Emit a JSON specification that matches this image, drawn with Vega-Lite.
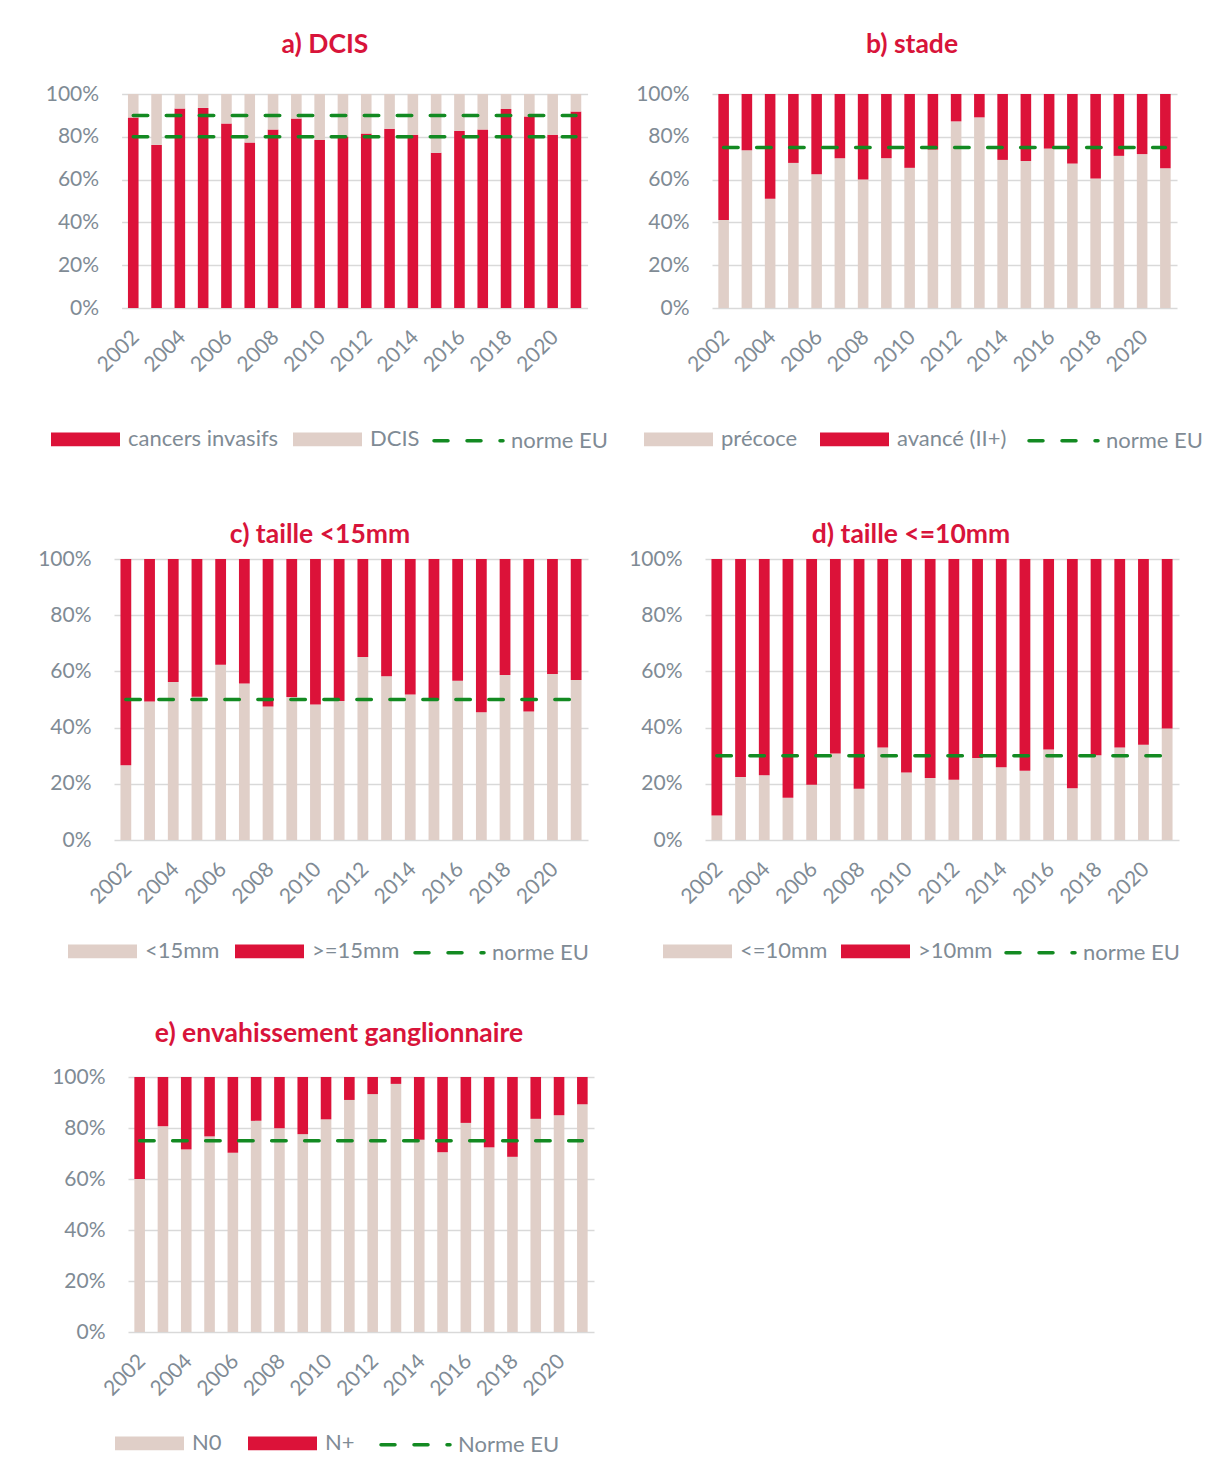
{
"$schema": "https://vega.github.io/schema/vega-lite/v6.json",
"padding": {"left": 37, "top": 32, "right": 10, "bottom": 10},
"background": "white",
"config": {
  "view": {"stroke": null},
  "font": "Lato",
  "title": {"font": "Lato", "fontSize": 26.5, "fontWeight": "bold", "color": "#D8143A", "anchor": "middle", "frame": "group", "baseline": "bottom"},
  "axis": {"labelFont": "Lato", "labelFontSize": 21, "labelColor": "#7F8B95", "ticks": false, "domain": false},
  "axisX": {"grid": false, "labelAngle": -45, "labelAlign": "right", "labelBaseline": "top", "labelPadding": 18, "labelOffset": -5, "labelOverlap": false},
  "axisY": {"grid": true, "gridColor": "#D9D9D9", "gridWidth": 1.5, "labelPadding": 23},
  "legend": {"orient": "none", "direction": "horizontal", "symbolType": "M-1,-0.2H1V0.2H-1Z", "symbolSize": 4761, "symbolStrokeWidth": 3.5, "labelFont": "Lato", "labelFontSize": 22, "labelColor": "#7F8B95", "labelOffset": 6, "columnPadding": 14, "padding": 0, "labelLimit": 400},
  "line": {"color": "#138A22", "strokeWidth": 3.5, "strokeDash": [14.5, 18.5], "strokeCap": "round"}
},
"datasets": {
  "pa": [
    {"year":"2002","cat":"cancers invasifs","v":89.0,"k":1},{"year":"2002","cat":"DCIS","v":11.0,"k":2},
    {"year":"2003","cat":"cancers invasifs","v":76.2,"k":1},{"year":"2003","cat":"DCIS","v":23.8,"k":2},
    {"year":"2004","cat":"cancers invasifs","v":93.2,"k":1},{"year":"2004","cat":"DCIS","v":6.8,"k":2},
    {"year":"2005","cat":"cancers invasifs","v":93.5,"k":1},{"year":"2005","cat":"DCIS","v":6.5,"k":2},
    {"year":"2006","cat":"cancers invasifs","v":86.2,"k":1},{"year":"2006","cat":"DCIS","v":13.8,"k":2},
    {"year":"2007","cat":"cancers invasifs","v":77.3,"k":1},{"year":"2007","cat":"DCIS","v":22.7,"k":2},
    {"year":"2008","cat":"cancers invasifs","v":83.4,"k":1},{"year":"2008","cat":"DCIS","v":16.6,"k":2},
    {"year":"2009","cat":"cancers invasifs","v":88.5,"k":1},{"year":"2009","cat":"DCIS","v":11.5,"k":2},
    {"year":"2010","cat":"cancers invasifs","v":78.5,"k":1},{"year":"2010","cat":"DCIS","v":21.5,"k":2},
    {"year":"2011","cat":"cancers invasifs","v":80.0,"k":1},{"year":"2011","cat":"DCIS","v":20.0,"k":2},
    {"year":"2012","cat":"cancers invasifs","v":81.5,"k":1},{"year":"2012","cat":"DCIS","v":18.5,"k":2},
    {"year":"2013","cat":"cancers invasifs","v":83.8,"k":1},{"year":"2013","cat":"DCIS","v":16.2,"k":2},
    {"year":"2014","cat":"cancers invasifs","v":81.0,"k":1},{"year":"2014","cat":"DCIS","v":19.0,"k":2},
    {"year":"2015","cat":"cancers invasifs","v":72.5,"k":1},{"year":"2015","cat":"DCIS","v":27.5,"k":2},
    {"year":"2016","cat":"cancers invasifs","v":82.7,"k":1},{"year":"2016","cat":"DCIS","v":17.3,"k":2},
    {"year":"2017","cat":"cancers invasifs","v":83.4,"k":1},{"year":"2017","cat":"DCIS","v":16.6,"k":2},
    {"year":"2018","cat":"cancers invasifs","v":93.0,"k":1},{"year":"2018","cat":"DCIS","v":7.0,"k":2},
    {"year":"2019","cat":"cancers invasifs","v":89.5,"k":1},{"year":"2019","cat":"DCIS","v":10.5,"k":2},
    {"year":"2020","cat":"cancers invasifs","v":80.9,"k":1},{"year":"2020","cat":"DCIS","v":19.1,"k":2},
    {"year":"2021","cat":"cancers invasifs","v":91.8,"k":1},{"year":"2021","cat":"DCIS","v":8.2,"k":2}
  ],
  "pb": [
    {"year":"2002","cat":"précoce","v":41.1,"k":1},{"year":"2002","cat":"avancé (II+)","v":58.9,"k":2},
    {"year":"2003","cat":"précoce","v":73.7,"k":1},{"year":"2003","cat":"avancé (II+)","v":26.3,"k":2},
    {"year":"2004","cat":"précoce","v":51.0,"k":1},{"year":"2004","cat":"avancé (II+)","v":49.0,"k":2},
    {"year":"2005","cat":"précoce","v":67.8,"k":1},{"year":"2005","cat":"avancé (II+)","v":32.2,"k":2},
    {"year":"2006","cat":"précoce","v":62.5,"k":1},{"year":"2006","cat":"avancé (II+)","v":37.5,"k":2},
    {"year":"2007","cat":"précoce","v":70.0,"k":1},{"year":"2007","cat":"avancé (II+)","v":30.0,"k":2},
    {"year":"2008","cat":"précoce","v":60.0,"k":1},{"year":"2008","cat":"avancé (II+)","v":40.0,"k":2},
    {"year":"2009","cat":"précoce","v":70.0,"k":1},{"year":"2009","cat":"avancé (II+)","v":30.0,"k":2},
    {"year":"2010","cat":"précoce","v":65.5,"k":1},{"year":"2010","cat":"avancé (II+)","v":34.5,"k":2},
    {"year":"2011","cat":"précoce","v":74.0,"k":1},{"year":"2011","cat":"avancé (II+)","v":26.0,"k":2},
    {"year":"2012","cat":"précoce","v":87.2,"k":1},{"year":"2012","cat":"avancé (II+)","v":12.8,"k":2},
    {"year":"2013","cat":"précoce","v":89.1,"k":1},{"year":"2013","cat":"avancé (II+)","v":10.9,"k":2},
    {"year":"2014","cat":"précoce","v":69.2,"k":1},{"year":"2014","cat":"avancé (II+)","v":30.8,"k":2},
    {"year":"2015","cat":"précoce","v":68.7,"k":1},{"year":"2015","cat":"avancé (II+)","v":31.3,"k":2},
    {"year":"2016","cat":"précoce","v":74.5,"k":1},{"year":"2016","cat":"avancé (II+)","v":25.5,"k":2},
    {"year":"2017","cat":"précoce","v":67.5,"k":1},{"year":"2017","cat":"avancé (II+)","v":32.5,"k":2},
    {"year":"2018","cat":"précoce","v":60.5,"k":1},{"year":"2018","cat":"avancé (II+)","v":39.5,"k":2},
    {"year":"2019","cat":"précoce","v":71.1,"k":1},{"year":"2019","cat":"avancé (II+)","v":28.9,"k":2},
    {"year":"2020","cat":"précoce","v":71.9,"k":1},{"year":"2020","cat":"avancé (II+)","v":28.1,"k":2},
    {"year":"2021","cat":"précoce","v":65.3,"k":1},{"year":"2021","cat":"avancé (II+)","v":34.7,"k":2}
  ],
  "pc": [
    {"year":"2002","cat":"<15mm","v":26.6,"k":1},{"year":"2002","cat":">=15mm","v":73.4,"k":2},
    {"year":"2003","cat":"<15mm","v":49.3,"k":1},{"year":"2003","cat":">=15mm","v":50.7,"k":2},
    {"year":"2004","cat":"<15mm","v":56.2,"k":1},{"year":"2004","cat":">=15mm","v":43.8,"k":2},
    {"year":"2005","cat":"<15mm","v":51.0,"k":1},{"year":"2005","cat":">=15mm","v":49.0,"k":2},
    {"year":"2006","cat":"<15mm","v":62.4,"k":1},{"year":"2006","cat":">=15mm","v":37.6,"k":2},
    {"year":"2007","cat":"<15mm","v":55.7,"k":1},{"year":"2007","cat":">=15mm","v":44.3,"k":2},
    {"year":"2008","cat":"<15mm","v":47.5,"k":1},{"year":"2008","cat":">=15mm","v":52.5,"k":2},
    {"year":"2009","cat":"<15mm","v":50.9,"k":1},{"year":"2009","cat":">=15mm","v":49.1,"k":2},
    {"year":"2010","cat":"<15mm","v":48.2,"k":1},{"year":"2010","cat":">=15mm","v":51.8,"k":2},
    {"year":"2011","cat":"<15mm","v":49.5,"k":1},{"year":"2011","cat":">=15mm","v":50.5,"k":2},
    {"year":"2012","cat":"<15mm","v":65.1,"k":1},{"year":"2012","cat":">=15mm","v":34.9,"k":2},
    {"year":"2013","cat":"<15mm","v":58.3,"k":1},{"year":"2013","cat":">=15mm","v":41.7,"k":2},
    {"year":"2014","cat":"<15mm","v":51.8,"k":1},{"year":"2014","cat":">=15mm","v":48.2,"k":2},
    {"year":"2015","cat":"<15mm","v":49.8,"k":1},{"year":"2015","cat":">=15mm","v":50.2,"k":2},
    {"year":"2016","cat":"<15mm","v":56.7,"k":1},{"year":"2016","cat":">=15mm","v":43.3,"k":2},
    {"year":"2017","cat":"<15mm","v":45.5,"k":1},{"year":"2017","cat":">=15mm","v":54.5,"k":2},
    {"year":"2018","cat":"<15mm","v":58.7,"k":1},{"year":"2018","cat":">=15mm","v":41.3,"k":2},
    {"year":"2019","cat":"<15mm","v":45.7,"k":1},{"year":"2019","cat":">=15mm","v":54.3,"k":2},
    {"year":"2020","cat":"<15mm","v":59.1,"k":1},{"year":"2020","cat":">=15mm","v":40.9,"k":2},
    {"year":"2021","cat":"<15mm","v":56.9,"k":1},{"year":"2021","cat":">=15mm","v":43.1,"k":2}
  ],
  "pd": [
    {"year":"2002","cat":"<=10mm","v":8.7,"k":1},{"year":"2002","cat":">10mm","v":91.3,"k":2},
    {"year":"2003","cat":"<=10mm","v":22.4,"k":1},{"year":"2003","cat":">10mm","v":77.6,"k":2},
    {"year":"2004","cat":"<=10mm","v":23.0,"k":1},{"year":"2004","cat":">10mm","v":77.0,"k":2},
    {"year":"2005","cat":"<=10mm","v":15.0,"k":1},{"year":"2005","cat":">10mm","v":85.0,"k":2},
    {"year":"2006","cat":"<=10mm","v":19.7,"k":1},{"year":"2006","cat":">10mm","v":80.3,"k":2},
    {"year":"2007","cat":"<=10mm","v":30.8,"k":1},{"year":"2007","cat":">10mm","v":69.2,"k":2},
    {"year":"2008","cat":"<=10mm","v":18.2,"k":1},{"year":"2008","cat":">10mm","v":81.8,"k":2},
    {"year":"2009","cat":"<=10mm","v":32.9,"k":1},{"year":"2009","cat":">10mm","v":67.1,"k":2},
    {"year":"2010","cat":"<=10mm","v":24.0,"k":1},{"year":"2010","cat":">10mm","v":76.0,"k":2},
    {"year":"2011","cat":"<=10mm","v":22.1,"k":1},{"year":"2011","cat":">10mm","v":77.9,"k":2},
    {"year":"2012","cat":"<=10mm","v":21.4,"k":1},{"year":"2012","cat":">10mm","v":78.6,"k":2},
    {"year":"2013","cat":"<=10mm","v":29.2,"k":1},{"year":"2013","cat":">10mm","v":70.8,"k":2},
    {"year":"2014","cat":"<=10mm","v":25.9,"k":1},{"year":"2014","cat":">10mm","v":74.1,"k":2},
    {"year":"2015","cat":"<=10mm","v":24.6,"k":1},{"year":"2015","cat":">10mm","v":75.4,"k":2},
    {"year":"2016","cat":"<=10mm","v":32.2,"k":1},{"year":"2016","cat":">10mm","v":67.8,"k":2},
    {"year":"2017","cat":"<=10mm","v":18.4,"k":1},{"year":"2017","cat":">10mm","v":81.6,"k":2},
    {"year":"2018","cat":"<=10mm","v":30.2,"k":1},{"year":"2018","cat":">10mm","v":69.8,"k":2},
    {"year":"2019","cat":"<=10mm","v":32.9,"k":1},{"year":"2019","cat":">10mm","v":67.1,"k":2},
    {"year":"2020","cat":"<=10mm","v":33.9,"k":1},{"year":"2020","cat":">10mm","v":66.1,"k":2},
    {"year":"2021","cat":"<=10mm","v":39.7,"k":1},{"year":"2021","cat":">10mm","v":60.3,"k":2}
  ],
  "pe": [
    {"year":"2002","cat":"N0","v":60.0,"k":1},{"year":"2002","cat":"N+","v":40.0,"k":2},
    {"year":"2003","cat":"N0","v":80.7,"k":1},{"year":"2003","cat":"N+","v":19.3,"k":2},
    {"year":"2004","cat":"N0","v":71.6,"k":1},{"year":"2004","cat":"N+","v":28.4,"k":2},
    {"year":"2005","cat":"N0","v":76.7,"k":1},{"year":"2005","cat":"N+","v":23.3,"k":2},
    {"year":"2006","cat":"N0","v":70.3,"k":1},{"year":"2006","cat":"N+","v":29.7,"k":2},
    {"year":"2007","cat":"N0","v":82.8,"k":1},{"year":"2007","cat":"N+","v":17.2,"k":2},
    {"year":"2008","cat":"N0","v":79.9,"k":1},{"year":"2008","cat":"N+","v":20.1,"k":2},
    {"year":"2009","cat":"N0","v":77.6,"k":1},{"year":"2009","cat":"N+","v":22.4,"k":2},
    {"year":"2010","cat":"N0","v":83.4,"k":1},{"year":"2010","cat":"N+","v":16.6,"k":2},
    {"year":"2011","cat":"N0","v":91.0,"k":1},{"year":"2011","cat":"N+","v":9.0,"k":2},
    {"year":"2012","cat":"N0","v":93.3,"k":1},{"year":"2012","cat":"N+","v":6.7,"k":2},
    {"year":"2013","cat":"N0","v":97.3,"k":1},{"year":"2013","cat":"N+","v":2.7,"k":2},
    {"year":"2014","cat":"N0","v":75.4,"k":1},{"year":"2014","cat":"N+","v":24.6,"k":2},
    {"year":"2015","cat":"N0","v":70.5,"k":1},{"year":"2015","cat":"N+","v":29.5,"k":2},
    {"year":"2016","cat":"N0","v":82.0,"k":1},{"year":"2016","cat":"N+","v":18.0,"k":2},
    {"year":"2017","cat":"N0","v":72.4,"k":1},{"year":"2017","cat":"N+","v":27.6,"k":2},
    {"year":"2018","cat":"N0","v":68.7,"k":1},{"year":"2018","cat":"N+","v":31.3,"k":2},
    {"year":"2019","cat":"N0","v":83.6,"k":1},{"year":"2019","cat":"N+","v":16.4,"k":2},
    {"year":"2020","cat":"N0","v":85.0,"k":1},{"year":"2020","cat":"N+","v":15.0,"k":2},
    {"year":"2021","cat":"N0","v":89.3,"k":1},{"year":"2021","cat":"N+","v":10.7,"k":2}
  ],
  "na": [
    {"year":"2002","n":80,"g":"1"},{"year":"2003","n":80,"g":"1"},{"year":"2004","n":80,"g":"1"},{"year":"2005","n":80,"g":"1"},{"year":"2006","n":80,"g":"1"},
    {"year":"2007","n":80,"g":"1"},{"year":"2008","n":80,"g":"1"},{"year":"2009","n":80,"g":"1"},{"year":"2010","n":80,"g":"1"},{"year":"2011","n":80,"g":"1"},
    {"year":"2012","n":80,"g":"1"},{"year":"2013","n":80,"g":"1"},{"year":"2014","n":80,"g":"1"},{"year":"2015","n":80,"g":"1"},{"year":"2016","n":80,"g":"1"},
    {"year":"2017","n":80,"g":"1"},{"year":"2018","n":80,"g":"1"},{"year":"2019","n":80,"g":"1"},{"year":"2020","n":80,"g":"1"},{"year":"2021","n":80,"g":"1"},
    {"year":"2002","n":90,"g":"2"},{"year":"2003","n":90,"g":"2"},{"year":"2004","n":90,"g":"2"},{"year":"2005","n":90,"g":"2"},{"year":"2006","n":90,"g":"2"},
    {"year":"2007","n":90,"g":"2"},{"year":"2008","n":90,"g":"2"},{"year":"2009","n":90,"g":"2"},{"year":"2010","n":90,"g":"2"},{"year":"2011","n":90,"g":"2"},
    {"year":"2012","n":90,"g":"2"},{"year":"2013","n":90,"g":"2"},{"year":"2014","n":90,"g":"2"},{"year":"2015","n":90,"g":"2"},{"year":"2016","n":90,"g":"2"},
    {"year":"2017","n":90,"g":"2"},{"year":"2018","n":90,"g":"2"},{"year":"2019","n":90,"g":"2"},{"year":"2020","n":90,"g":"2"},{"year":"2021","n":90,"g":"2"}
  ],
  "nb": [
    {"year":"2002","n":75},{"year":"2003","n":75},{"year":"2004","n":75},{"year":"2005","n":75},{"year":"2006","n":75},
    {"year":"2007","n":75},{"year":"2008","n":75},{"year":"2009","n":75},{"year":"2010","n":75},{"year":"2011","n":75},
    {"year":"2012","n":75},{"year":"2013","n":75},{"year":"2014","n":75},{"year":"2015","n":75},{"year":"2016","n":75},
    {"year":"2017","n":75},{"year":"2018","n":75},{"year":"2019","n":75},{"year":"2020","n":75},{"year":"2021","n":75}
  ],
  "nc": [
    {"year":"2002","n":50},{"year":"2003","n":50},{"year":"2004","n":50},{"year":"2005","n":50},{"year":"2006","n":50},
    {"year":"2007","n":50},{"year":"2008","n":50},{"year":"2009","n":50},{"year":"2010","n":50},{"year":"2011","n":50},
    {"year":"2012","n":50},{"year":"2013","n":50},{"year":"2014","n":50},{"year":"2015","n":50},{"year":"2016","n":50},
    {"year":"2017","n":50},{"year":"2018","n":50},{"year":"2019","n":50},{"year":"2020","n":50},{"year":"2021","n":50}
  ],
  "nd": [
    {"year":"2002","n":30},{"year":"2003","n":30},{"year":"2004","n":30},{"year":"2005","n":30},{"year":"2006","n":30},
    {"year":"2007","n":30},{"year":"2008","n":30},{"year":"2009","n":30},{"year":"2010","n":30},{"year":"2011","n":30},
    {"year":"2012","n":30},{"year":"2013","n":30},{"year":"2014","n":30},{"year":"2015","n":30},{"year":"2016","n":30},
    {"year":"2017","n":30},{"year":"2018","n":30},{"year":"2019","n":30},{"year":"2020","n":30},{"year":"2021","n":30}
  ],
  "ne": [
    {"year":"2002","n":75},{"year":"2003","n":75},{"year":"2004","n":75},{"year":"2005","n":75},{"year":"2006","n":75},
    {"year":"2007","n":75},{"year":"2008","n":75},{"year":"2009","n":75},{"year":"2010","n":75},{"year":"2011","n":75},
    {"year":"2012","n":75},{"year":"2013","n":75},{"year":"2014","n":75},{"year":"2015","n":75},{"year":"2016","n":75},
    {"year":"2017","n":75},{"year":"2018","n":75},{"year":"2019","n":75},{"year":"2020","n":75},{"year":"2021","n":75}
  ]
},
"vconcat": [
  {
    "vconcat": [
      {
        "hconcat": [
          {"width": 1, "height": 1, "data": {"values": []}, "mark": {"type": "point", "opacity": 0}, "encoding": {}},
          {
            "hconcat": [
              {
                "width": 466, "height": 214,
                "title": {"text": "a) DCIS", "dx": -29.6, "offset": 24.5},
                "layer": [
                  {"data": {"name": "pa"}, "mark": "bar",
                   "encoding": {
                     "x": {"field": "year", "type": "ordinal", "title": null, "scale": {"paddingInner": 0.545, "paddingOuter": 0.2725}, "axis": {"values": ["2002","2004","2006","2008","2010","2012","2014","2016","2018","2020"]}},
                     "y": {"field": "v", "type": "quantitative", "title": null, "stack": "zero", "scale": {"domain": [0, 100], "nice": false}, "axis": {"values": [0,20,40,60,80,100], "labelExpr": "datum.value + '%'"}},
                     "color": {"field": "cat", "type": "nominal", "title": null, "scale": {"domain": ["cancers invasifs", "DCIS", "norme EU"], "range": ["#DC1239", "#E0CFC8", "#138A22"]},
                       "legend": {"title": null, "legendX": -72.6, "legendY": 308.5, "columnPadding": 7,
                         "encode": {"symbols": {"update": {"shape": {"signal": "indexof(datum.value, 'orme EU') >= 0 ? 'M-1,0H1' : 'M-1,-0.2H1V0.2H-1Z'"}, "stroke": {"signal": "indexof(datum.value, 'orme EU') >= 0 ? '#138A22' : 'transparent'"}, "strokeDash": {"value": [14, 19]}, "strokeCap": {"value": "round"}, "strokeWidth": {"value": 3.5}}}}}},
                     "order": {"field": "k", "type": "quantitative"}
                   }},
                  {"data": {"name": "na"}, "mark": "line",
                   "encoding": {"x": {"field": "year", "type": "ordinal", "title": null}, "y": {"field": "n", "type": "quantitative", "title": null}, "detail": {"field": "g", "type": "nominal"}}}
                ]
              },
              {
                "width": 465, "height": 214,
                "title": {"text": "b) stade", "dx": -32.5, "offset": 24.5},
                "layer": [
                  {"data": {"name": "pb"}, "mark": "bar",
                   "encoding": {
                     "x": {"field": "year", "type": "ordinal", "title": null, "scale": {"paddingInner": 0.545, "paddingOuter": 0.2725}, "axis": {"values": ["2002","2004","2006","2008","2010","2012","2014","2016","2018","2020"]}},
                     "y": {"field": "v", "type": "quantitative", "title": null, "stack": "zero", "scale": {"domain": [0, 100], "nice": false}, "axis": {"values": [0,20,40,60,80,100], "labelExpr": "datum.value + '%'"}},
                     "color": {"field": "cat", "type": "nominal", "title": null, "scale": {"domain": ["précoce", "avancé (II+)", "norme EU"], "range": ["#E0CFC8", "#DC1239", "#138A22"]},
                       "legend": {"title": null, "legendX": -70, "legendY": 308.5, "columnPadding": 15,
                         "encode": {"symbols": {"update": {"shape": {"signal": "indexof(datum.value, 'orme EU') >= 0 ? 'M-1,0H1' : 'M-1,-0.2H1V0.2H-1Z'"}, "stroke": {"signal": "indexof(datum.value, 'orme EU') >= 0 ? '#138A22' : 'transparent'"}, "strokeDash": {"value": [14, 19]}, "strokeCap": {"value": "round"}, "strokeWidth": {"value": 3.5}}}}}},
                     "order": {"field": "k", "type": "quantitative"}
                   }},
                  {"data": {"name": "nb"}, "mark": "line",
                   "encoding": {"x": {"field": "year", "type": "ordinal", "title": null}, "y": {"field": "n", "type": "quantitative", "title": null}}}
                ]
              }
            ],
            "spacing": 124.4, "bounds": "flush",
            "resolve": {"scale": {"x": "independent", "y": "independent", "color": "independent"}, "axis": {"x": "independent", "y": "independent"}, "legend": {"color": "independent"}}
          }
        ],
        "spacing": 6.6, "bounds": "flush",
        "resolve": {"scale": {"x": "independent", "y": "independent", "color": "independent"}, "axis": {"x": "independent", "y": "independent"}, "legend": {"color": "independent"}}
      },
      {
        "hconcat": [
          {
            "width": 474, "height": 281,
            "title": {"text": "c) taille <15mm", "dx": -31, "offset": -0.5},
            "layer": [
              {"data": {"name": "pc"}, "mark": "bar",
               "encoding": {
                 "x": {"field": "year", "type": "ordinal", "title": null, "scale": {"paddingInner": 0.545, "paddingOuter": 0.2725}, "axis": {"values": ["2002","2004","2006","2008","2010","2012","2014","2016","2018","2020"]}},
                 "y": {"field": "v", "type": "quantitative", "title": null, "stack": "zero", "scale": {"domain": [0, 100], "nice": false}, "axis": {"values": [0,20,40,60,80,100], "labelExpr": "datum.value + '%'"}},
                 "color": {"field": "cat", "type": "nominal", "title": null, "scale": {"domain": ["<15mm", ">=15mm", "norme EU"], "range": ["#E0CFC8", "#DC1239", "#138A22"]},
                   "legend": {"title": null, "legendX": -48, "legendY": 355.5, "columnPadding": 8,
                     "encode": {"symbols": {"update": {"shape": {"signal": "indexof(datum.value, 'orme EU') >= 0 ? 'M-1,0H1' : 'M-1,-0.2H1V0.2H-1Z'"}, "stroke": {"signal": "indexof(datum.value, 'orme EU') >= 0 ? '#138A22' : 'transparent'"}, "strokeDash": {"value": [14, 19]}, "strokeCap": {"value": "round"}, "strokeWidth": {"value": 3.5}}}}}},
                 "order": {"field": "k", "type": "quantitative"}
               }},
              {"data": {"name": "nc"}, "mark": "line",
               "encoding": {"x": {"field": "year", "type": "ordinal", "title": null}, "y": {"field": "n", "type": "quantitative", "title": null}}}
            ]
          },
          {
            "width": 474, "height": 281,
            "title": {"text": "d) taille <=10mm", "dx": -31, "offset": -0.5},
            "layer": [
              {"data": {"name": "pd"}, "mark": "bar",
               "encoding": {
                 "x": {"field": "year", "type": "ordinal", "title": null, "scale": {"paddingInner": 0.545, "paddingOuter": 0.2725}, "axis": {"values": ["2002","2004","2006","2008","2010","2012","2014","2016","2018","2020"]}},
                 "y": {"field": "v", "type": "quantitative", "title": null, "stack": "zero", "scale": {"domain": [0, 100], "nice": false}, "axis": {"values": [0,20,40,60,80,100], "labelExpr": "datum.value + '%'"}},
                 "color": {"field": "cat", "type": "nominal", "title": null, "scale": {"domain": ["<=10mm", ">10mm", "norme EU"], "range": ["#E0CFC8", "#DC1239", "#138A22"]},
                   "legend": {"title": null, "legendX": -44, "legendY": 355.5, "columnPadding": 6,
                     "encode": {"symbols": {"update": {"shape": {"signal": "indexof(datum.value, 'orme EU') >= 0 ? 'M-1,0H1' : 'M-1,-0.2H1V0.2H-1Z'"}, "stroke": {"signal": "indexof(datum.value, 'orme EU') >= 0 ? '#138A22' : 'transparent'"}, "strokeDash": {"value": [14, 19]}, "strokeCap": {"value": "round"}, "strokeWidth": {"value": 3.5}}}}}},
                 "order": {"field": "k", "type": "quantitative"}
               }},
              {"data": {"name": "nd"}, "mark": "line",
               "encoding": {"x": {"field": "year", "type": "ordinal", "title": null}, "y": {"field": "n", "type": "quantitative", "title": null}}}
            ]
          }
        ],
        "spacing": 117, "bounds": "flush",
        "resolve": {"scale": {"x": "independent", "y": "independent", "color": "independent"}, "axis": {"x": "independent", "y": "independent"}, "legend": {"color": "independent"}}
      }
    ],
    "spacing": 465, "bounds": "flush",
    "resolve": {"scale": {"x": "independent", "y": "independent", "color": "independent"}, "axis": {"x": "independent", "y": "independent"}, "legend": {"color": "independent"}}
  },
  {
    "hconcat": [
      {"width": 1, "height": 1, "data": {"values": []}, "mark": {"type": "point", "opacity": 0}, "encoding": {}},
      {
        "width": 466, "height": 255,
        "title": {"text": "e) envahissement ganglionnaire", "dx": -22, "offset": 18.2},
        "layer": [
          {"data": {"name": "pe"}, "mark": "bar",
           "encoding": {
             "x": {"field": "year", "type": "ordinal", "title": null, "scale": {"paddingInner": 0.545, "paddingOuter": 0.2725}, "axis": {"values": ["2002","2004","2006","2008","2010","2012","2014","2016","2018","2020"]}},
             "y": {"field": "v", "type": "quantitative", "title": null, "stack": "zero", "scale": {"domain": [0, 100], "nice": false}, "axis": {"values": [0,20,40,60,80,100], "labelExpr": "datum.value + '%'"}},
             "color": {"field": "cat", "type": "nominal", "title": null, "scale": {"domain": ["N0", "N+", "Norme EU"], "range": ["#E0CFC8", "#DC1239", "#138A22"]},
               "legend": {"title": null, "legendX": -15, "legendY": 329.5, "columnPadding": 19,
                 "encode": {"symbols": {"update": {"shape": {"signal": "indexof(datum.value, 'orme EU') >= 0 ? 'M-1,0H1' : 'M-1,-0.2H1V0.2H-1Z'"}, "stroke": {"signal": "indexof(datum.value, 'orme EU') >= 0 ? '#138A22' : 'transparent'"}, "strokeDash": {"value": [14, 19]}, "strokeCap": {"value": "round"}, "strokeWidth": {"value": 3.5}}}}}},
             "order": {"field": "k", "type": "quantitative"}
           }},
          {"data": {"name": "ne"}, "mark": "line",
           "encoding": {"x": {"field": "year", "type": "ordinal", "title": null}, "y": {"field": "n", "type": "quantitative", "title": null}}}
        ]
      }
    ],
    "spacing": 13, "bounds": "flush",
    "resolve": {"scale": {"x": "independent", "y": "independent", "color": "independent"}, "axis": {"x": "independent", "y": "independent"}, "legend": {"color": "independent"}}
  }
],
"spacing": 983, "bounds": "flush",
"resolve": {"scale": {"x": "independent", "y": "independent", "color": "independent"}, "axis": {"x": "independent", "y": "independent"}, "legend": {"color": "independent"}}
}
